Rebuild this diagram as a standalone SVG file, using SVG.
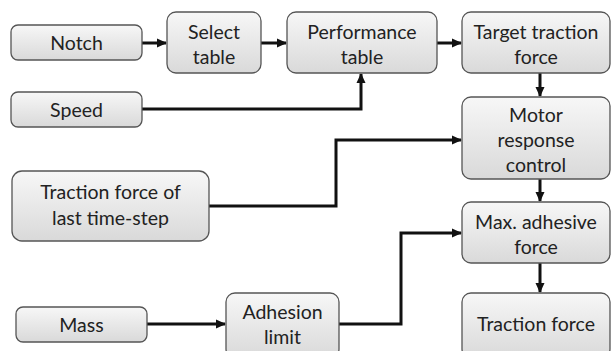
<svg xmlns="http://www.w3.org/2000/svg" width="611" height="351" viewBox="0 0 611 351">
<defs>
<linearGradient id="g" x1="0" y1="0" x2="0" y2="1">
<stop offset="0" stop-color="#f7f7f7"/>
<stop offset="1" stop-color="#d9d9d9"/>
</linearGradient>
<marker id="a" markerWidth="10" markerHeight="10" refX="9" refY="5" orient="auto" markerUnits="userSpaceOnUse">
<path d="M0,0.5 L10,5 L0,9.5 Z" fill="#111"/>
</marker>
<style>
.n rect{fill:url(#g);stroke:#555;stroke-width:1.3}
.n text{font-family:Lato,"Liberation Sans",sans-serif;font-size:19.5px;fill:#222;text-anchor:middle}
.c path{fill:none;stroke:#111;stroke-width:3;marker-end:url(#a)}
</style>
</defs>
<rect width="611" height="351" fill="#fff"/>
<g class="c" id="connectors">
<path d="M142,43 H166"/>
<path d="M261,43 H286"/>
<path d="M437,43 H461"/>
<path d="M142,109 H361 V74"/>
<path d="M540,73 V96"/>
<path d="M209,206 H336 V140 H461"/>
<path d="M540,179 V201"/>
<path d="M540,263 V292"/>
<path d="M147,324 H225"/>
<path d="M339,324 H401 V233 H461"/>
</g>
<g class="n" id="notch"><rect x="11" y="25" width="131" height="35" rx="7"/><text x="76.5" y="50">Notch</text></g>
<g class="n" id="select"><rect x="167" y="12" width="94" height="61" rx="9"/><text x="214" y="39">Select</text><text x="214" y="64">table</text></g>
<g class="n" id="perf"><rect x="287" y="12" width="150" height="61" rx="9"/><text x="362" y="39">Performance</text><text x="362" y="64">table</text></g>
<g class="n" id="target"><rect x="462" y="12" width="148" height="61" rx="9"/><text x="536" y="39">Target traction</text><text x="536" y="64">force</text></g>
<g class="n" id="speed"><rect x="11" y="92" width="131" height="35" rx="7"/><text x="76.5" y="117">Speed</text></g>
<g class="n" id="motor"><rect x="462" y="97" width="148" height="82" rx="9"/><text x="536" y="122">Motor</text><text x="536" y="147">response</text><text x="536" y="172">control</text></g>
<g class="n" id="last"><rect x="12" y="171" width="197" height="70" rx="10"/><text x="110.5" y="199">Traction force of</text><text x="110.5" y="225">last time-step</text></g>
<g class="n" id="maxadh"><rect x="462" y="202" width="148" height="61" rx="9"/><text x="536" y="229">Max. adhesive</text><text x="536" y="254">force</text></g>
<g class="n" id="mass"><rect x="16" y="307" width="131" height="35" rx="7"/><text x="81.5" y="332">Mass</text></g>
<g class="n" id="adhesion"><rect x="226" y="293" width="113" height="65" rx="9"/><text x="282.5" y="319">Adhesion</text><text x="282.5" y="344">limit</text></g>
<g class="n" id="traction"><rect x="462" y="293" width="148" height="65" rx="9"/><text x="536" y="331">Traction force</text></g>
</svg>
